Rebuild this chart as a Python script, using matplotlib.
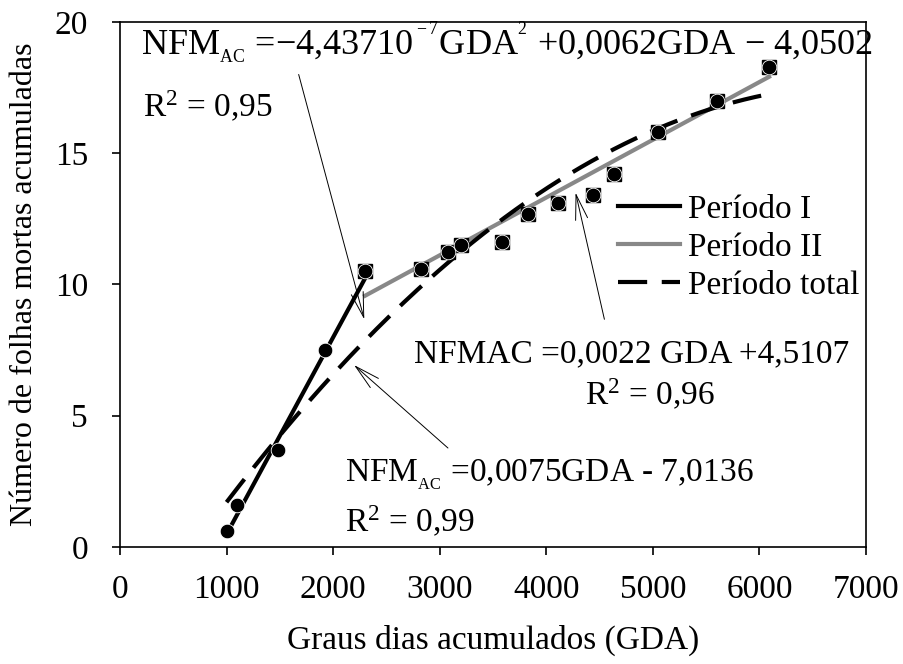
import numpy as np
import matplotlib
matplotlib.use("Agg")
from matplotlib import pyplot as plt

# dados observados
gda = [1000, 1100, 1480, 1920, 2300, 2820, 3080, 3200, 3580, 3830,
       4110, 4440, 4640, 5050, 5600, 6090]
nfm = [0.6, 1.6, 3.7, 7.5, 10.5, 10.6, 11.25, 11.5, 11.6, 12.7,
       13.1, 13.4, 14.2, 15.8, 17.0, 18.3]

# periodo II comeca em 2300 GDA (marcadores quadrados)
gda_p2 = gda[4:]
nfm_p2 = nfm[4:]

# coeficientes das equacoes mostradas no grafico
coef_p1 = [0.0075, -7.0136]
coef_p2 = [0.0022, 4.5107]
coef_tot = [-4.437e-7, 0.0062, -4.0502]

plt.rcParams['font.family'] = ['Liberation Serif']
plt.rcParams['mathtext.fontset'] = 'custom'
plt.rcParams['mathtext.rm'] = 'Liberation Serif'
plt.rcParams['mathtext.it'] = 'Liberation Serif:italic'

fig = plt.figure(figsize=(9.04, 6.64), dpi=100)
ax = fig.add_axes([0.1327, 0.1762, 0.958 - 0.1327, 0.967 - 0.1762])

x1 = np.array([gda[0], gda[4]])
x2 = np.array([gda_p2[0], gda_p2[-1]])
xt = np.linspace(gda[0], gda[-1], 200)

ax.plot(x1, np.polyval(coef_p1, x1), color='black', lw=3, label='Período I')
ax.plot(x2, np.polyval(coef_p2, x2), color='#888888', lw=3, label='Período II')
ax.plot(xt, np.polyval(coef_tot, xt), color='black', lw=3, dashes=(7, 3.5),
        label='Período total')

ax.plot(gda_p2, nfm_p2, 's', color='black', mec='black', ms=9.5, zorder=3)
ax.plot(gda, nfm, 'o', color='black', mec='white', mew=0.6, ms=10.5, zorder=4)

ax.set_xlim(0, 7000)
ax.set_ylim(0, 20)
ax.set_xticks(range(0, 7001, 1000))
ax.set_yticks(range(0, 21, 5))
ax.tick_params(axis='x', direction='out', labelsize=24, length=6, width=1.2, pad=14)
ax.tick_params(axis='y', direction='out', labelsize=24, length=6, width=1.2, pad=17)
for s in ax.spines.values():
    s.set_linewidth(1.2)

ax.set_xlabel('Graus dias acumulados (GDA)', fontsize=24, labelpad=14)
ax.set_ylabel('Número de folhas mortas acumuladas', fontsize=23, labelpad=11)

leg = ax.legend(loc='upper left', bbox_to_anchor=(0.668, 0.672), frameon=False,
                fontsize=24, handlelength=1.85, handletextpad=0.25,
                labelspacing=0.23, borderpad=0, borderaxespad=0)

ax.text(200, 18.74,
        r'NFM$_{_{\rm AC}}$ =−4,43710$^{^{\rm -7}}$GDA$^{^{\rm 2}}$ +0,0062GDA − 4,0502',
        fontsize=26, va='baseline')
ax.text(216, 16.38, r'R$^2$ = 0,95', fontsize=24, va='baseline')
ax.text(4804, 7.05, 'NFMAC =0,0022 GDA +4,5107', fontsize=24, va='baseline', ha='center')
ax.text(4973, 5.41, r'R$^2$ = 0,96', fontsize=24, va='baseline', ha='center')
ax.text(2111, 2.48, r'NFM$_{_{\rm AC}}$ =0,0075GDA - 7,0136', fontsize=24, va='baseline')
ax.text(2111, 0.57, r'R$^2$ = 0,99', fontsize=24, va='baseline')

arrow = dict(arrowstyle='->, head_length=0.9, head_width=0.22', color='black',
             lw=0.7, mutation_scale=20)
ax.annotate('', xy=(2299, 8.57), xytext=(1670, 18.1), arrowprops=arrow)
ax.annotate('', xy=(4269, 13.6), xytext=(4551, 8.57), arrowprops=arrow)
ax.annotate('', xy=(2177, 7.0), xytext=(3097, 3.7), arrowprops=arrow)

fig.savefig('out.png', dpi=100)
